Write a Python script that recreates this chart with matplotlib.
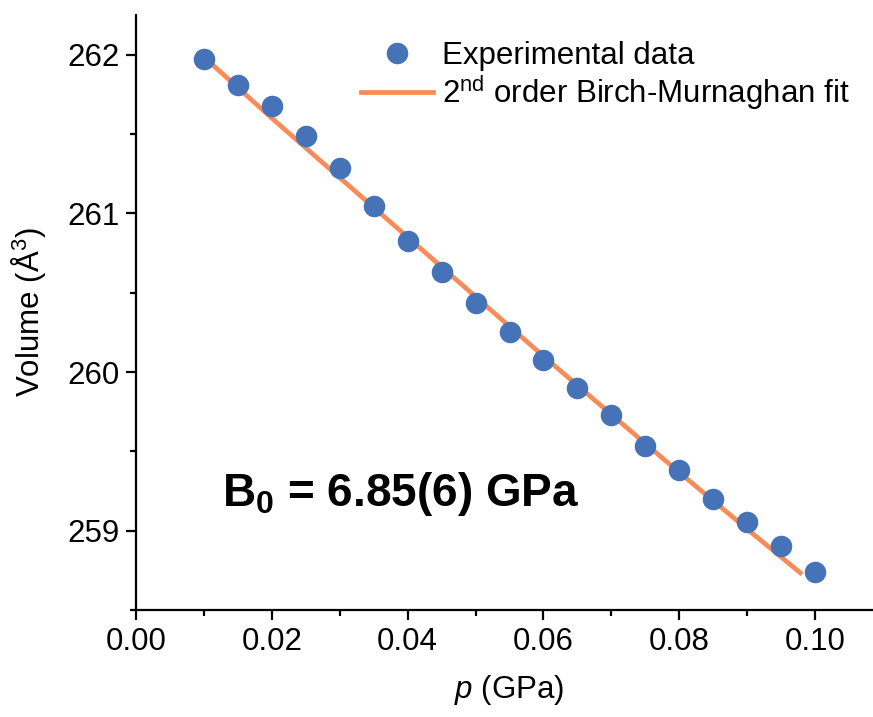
import matplotlib
matplotlib.use("Agg")
import matplotlib.pyplot as plt
from matplotlib.ticker import MultipleLocator

plt.rcParams['font.family'] = ['Liberation Sans', 'DejaVu Sans']
plt.rcParams['mathtext.fontset'] = 'custom'
plt.rcParams['mathtext.rm'] = 'Liberation Sans'
plt.rcParams['mathtext.it'] = 'Liberation Sans:italic'
plt.rcParams['mathtext.bf'] = 'Liberation Sans:bold'

# experimental data
pressure = [0.010, 0.015, 0.020, 0.025, 0.030, 0.035, 0.040, 0.045, 0.050, 0.055,
            0.060, 0.065, 0.070, 0.075, 0.080, 0.085, 0.090, 0.095, 0.100]
volume = [261.973, 261.81, 261.674, 261.487, 261.283, 261.046, 260.826, 260.63, 260.433, 260.253,
          260.079, 259.897, 259.728, 259.535, 259.384, 259.198, 259.054, 258.905, 258.742]

# Birch-Murnaghan fit curve
fit_p = [0.0104, 0.02, 0.03, 0.04, 0.05, 0.06, 0.07, 0.08, 0.09, 0.0978]
fit_v = [261.97, 261.60, 261.225, 260.85, 260.475, 260.10, 259.732, 259.367, 259.01, 258.735]

fig = plt.figure(figsize=(8.73, 7.17), dpi=100)
# axes run a bit past the right edge of the picture (original was cropped)
ax = fig.add_axes([0.1558, 0.1492, 0.8557, 0.8298])

ax.plot(fit_p, fit_v, color='#F98B56', lw=3.4, zorder=2,
        label='2$^{\\mathrm{nd}}$ order Birch-Murnaghan fit')
ax.plot(pressure, volume, 'o', color='#4673B8', ms=15.5, mec='none', zorder=3,
        label='Experimental data')

ax.set_xlim(0, 0.11)
ax.set_ylim(258.5, 262.25)
ax.xaxis.set_major_locator(MultipleLocator(0.02))
ax.xaxis.set_minor_locator(MultipleLocator(0.01))
ax.yaxis.set_major_locator(MultipleLocator(1))
ax.yaxis.set_minor_locator(MultipleLocator(0.5))
ax.xaxis.set_major_formatter(matplotlib.ticker.FormatStrFormatter('%.2f'))

for s in ['top', 'right']:
    ax.spines[s].set_visible(False)
for s in ['left', 'bottom']:
    ax.spines[s].set_linewidth(1.6)
ax.tick_params(which='major', direction='out', length=7, width=1.6, labelsize=22.5, pad=5)
ax.tick_params(which='minor', direction='out', length=4, width=1.6)

ax.set_xlabel('$p$ (GPa)', fontsize=22.5, labelpad=12)
ax.set_ylabel('Volume (Å$^3$)', fontsize=22.5, labelpad=14)

handles, labels = ax.get_legend_handles_labels()
ax.legend(handles[::-1], labels[::-1], loc='upper left', bbox_to_anchor=(0.4135, 0.9428),
          bbox_transform=fig.transFigure, frameon=False, fontsize=22.5,
          handlelength=2.3, handletextpad=0.3, labelspacing=0.05,
          borderpad=0, borderaxespad=0)

ax.text(0.0127, 259.156, 'B$_\\mathbf{0}$ = 6.85(6) GPa', fontsize=33, fontweight='bold')

fig.savefig('out.png', dpi=100)
